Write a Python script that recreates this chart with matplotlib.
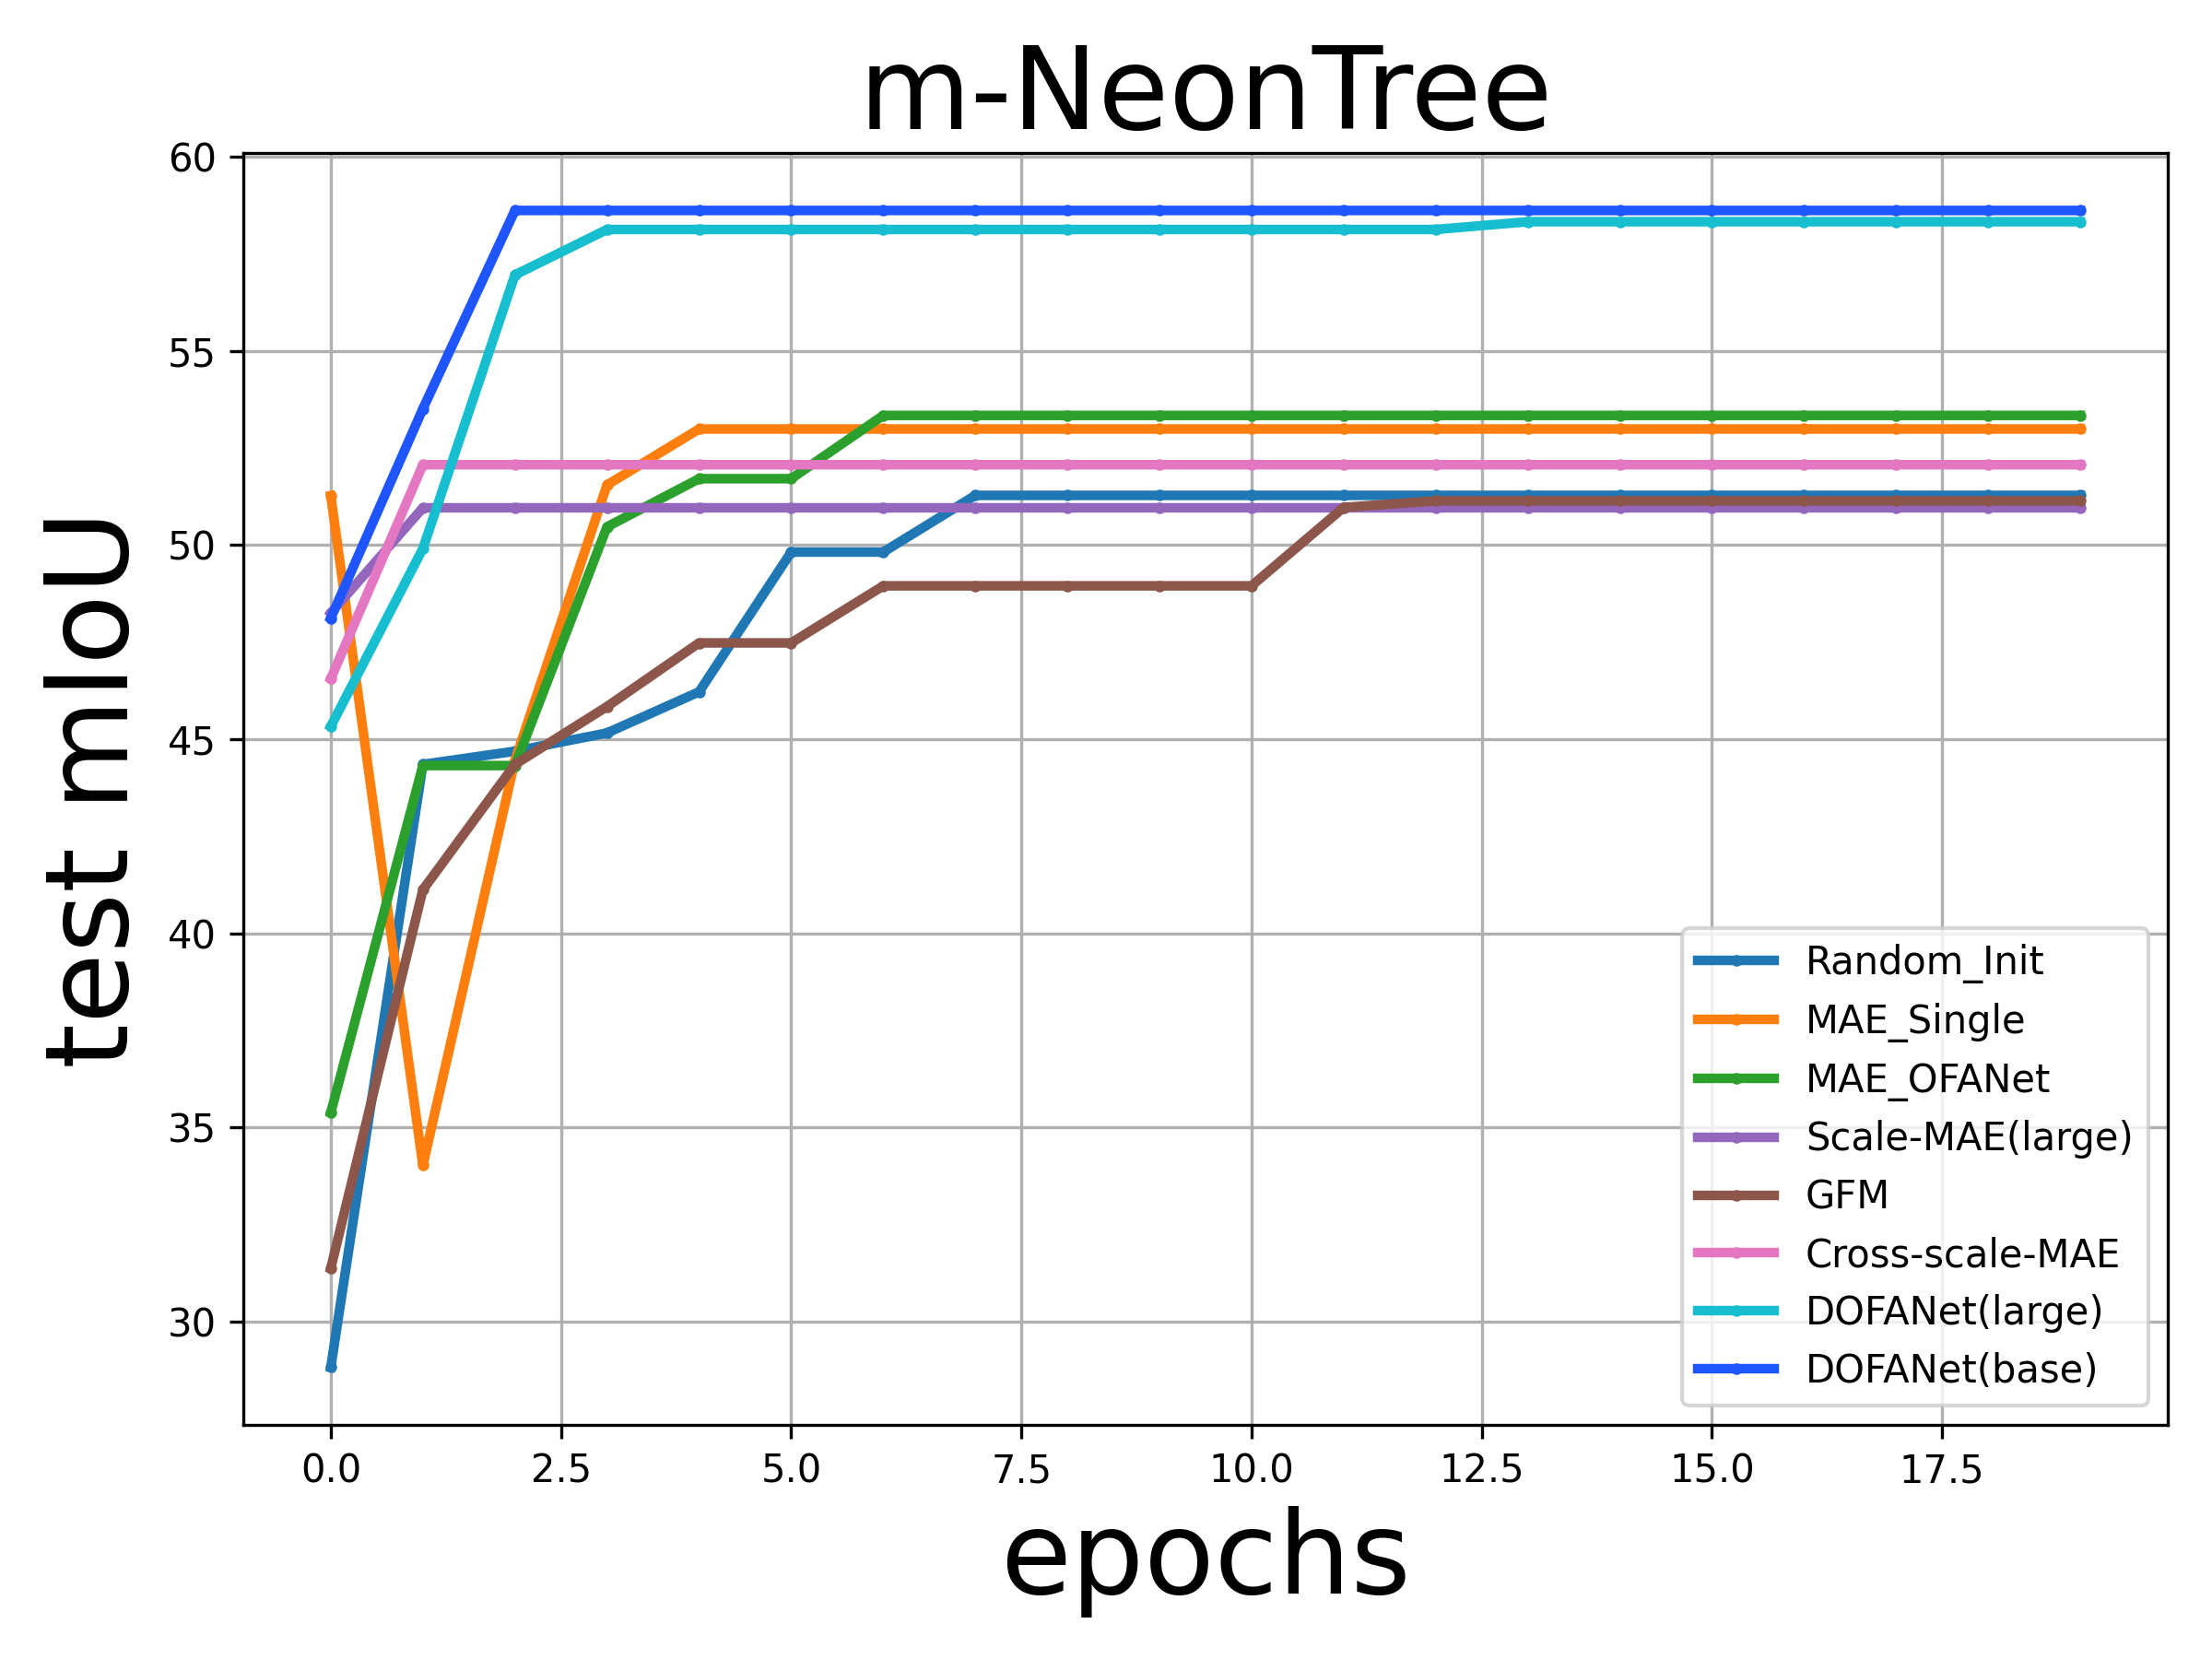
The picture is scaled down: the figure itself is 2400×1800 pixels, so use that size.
import numpy as np
import matplotlib
matplotlib.use("Agg")
import matplotlib.pyplot as plt

epochs = np.arange(20)

random_init = [28.82, 44.35, 44.69, 45.16, 46.22, 49.82, 49.82] + [51.28] * 13
mae_single = [51.27, 34.02, 44.45, 51.55] + [52.99] * 16
mae_ofanet = [35.38, 44.32, 44.32, 50.47, 51.71, 51.71] + [53.34] * 14
scale_mae = [48.25] + [50.96] * 19
gfm = [31.37, 41.12, 44.35, 45.84, 47.48, 47.48,
       48.95, 48.95, 48.95, 48.95, 48.95, 50.97] + [51.14] * 8
cross_scale_mae = [46.56] + [52.07] * 19
dofanet_large = [45.33, 49.91, 56.96] + [58.13] * 10 + [58.33] * 7
dofanet_base = [48.12, 53.51] + [58.62] * 18

series = [
    ("Random_Init", random_init, "tab:blue"),
    ("MAE_Single", mae_single, "tab:orange"),
    ("MAE_OFANet", mae_ofanet, "tab:green"),
    ("Scale-MAE(large)", scale_mae, "tab:purple"),
    ("GFM", gfm, "tab:brown"),
    ("Cross-scale-MAE", cross_scale_mae, "tab:pink"),
    ("DOFANet(large)", dofanet_large, "tab:cyan"),
    ("DOFANet(base)", dofanet_base, "#1f55ff"),
]

fig, ax = plt.subplots(figsize=(8, 6), dpi=300)
for name, vals, c in series:
    ax.plot(epochs, vals, marker='.', markersize=4, linewidth=2.5, color=c, label=name)

ax.set_title("m-NeonTree", fontsize=30)
ax.set_xlabel("epochs", fontsize=30)
ax.set_ylabel("test mIoU", fontsize=30)
ax.grid()
ax.legend(loc='lower right')
fig.subplots_adjust(left=0.110, right=0.980, top=0.908, bottom=0.141)
fig.savefig("out.png", dpi=300)
